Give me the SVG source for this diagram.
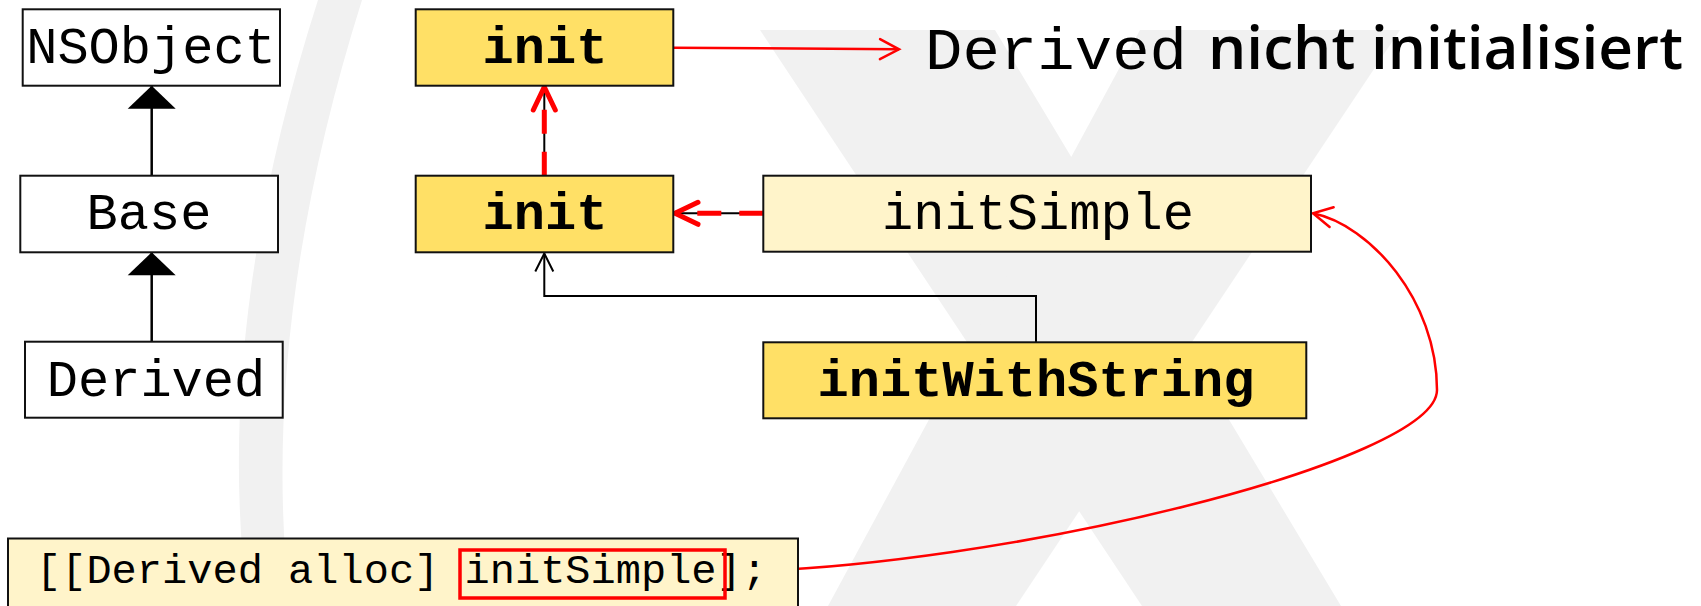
<svg xmlns="http://www.w3.org/2000/svg" width="1701" height="606" viewBox="0 0 1701 606">
<style>
.mono{font-family:"Liberation Mono","Courier New",monospace;font-size:52px;fill:#000}
.bold{font-weight:bold}
.box{stroke:#111;stroke-width:2}
.white{fill:#fff}
.yel{fill:#FFE066}
.lt{fill:#FFF4CA}
.thin{fill:none;stroke:#000;stroke-width:2}
.red{fill:none;stroke:#FF0000}
</style>
<defs>
<marker id="tri" markerUnits="userSpaceOnUse" markerWidth="1" markerHeight="1" orient="auto" overflow="visible">
<path d="M0,0 L-23,-24 L-23,24 Z" fill="#000"/>
</marker>
<marker id="redThin" markerUnits="userSpaceOnUse" markerWidth="1" markerHeight="1" orient="auto" overflow="visible">
<path d="M-19,-10 L0,0 L-19,10" fill="none" stroke="#FF0000" stroke-width="2.5" stroke-linecap="round"/>
</marker>
<marker id="redThick" markerUnits="userSpaceOnUse" markerWidth="1" markerHeight="1" orient="auto" overflow="visible">
<path d="M-23,-11 L0,0 L-23,11" fill="none" stroke="#FF0000" stroke-width="5" stroke-linecap="round" stroke-linejoin="miter"/>
</marker>
<marker id="blackOpen" markerUnits="userSpaceOnUse" markerWidth="1" markerHeight="1" orient="auto" overflow="visible">
<path d="M-18,-9 L0,0 L-18,9" fill="none" stroke="#000" stroke-width="2"/>
</marker>
</defs>
<rect width="1701" height="606" fill="#fff"/>
<g id="watermark" fill="#F1F1F1">
<path d="M318,0 Q212,330 248,606 L290,606 Q258,330 362,0 Z"/>
<path d="M760,30 L995,30 L1341,606 L1142,606 Z"/>
<path d="M1140,30 L1400,30 L1016,606 L828,606 Z"/>
</g>
<g id="connectors">
<path d="M151.7,341.7 V252.3" stroke="#000" stroke-width="2.5" marker-end="url(#tri)"/>
<path d="M151.7,175.7 V85.7" stroke="#000" stroke-width="2.5" marker-end="url(#tri)"/>
<path d="M673.3,47.7 L899,49.3" class="red" stroke-width="2.5" marker-end="url(#redThin)"/>
<path d="M544.3,175.7 V88" class="thin"/>
<path d="M544.3,175.7 V87" class="red" stroke-width="5" stroke-dasharray="24 18" marker-end="url(#redThick)"/>
<path d="M763.3,213.3 H676" class="thin"/>
<path d="M763.3,213.3 H675" class="red" stroke-width="5" stroke-dasharray="24 18" marker-end="url(#redThick)"/>
<path d="M1036,342.3 V296 H544.3 V253.5" class="thin" marker-end="url(#blackOpen)"/>
<path d="M725,572 C1000,568 1437,462 1437,390 C1437,300 1370,225 1313,213.3" class="red" stroke-width="2.5" marker-end="url(#redThin)"/>
</g>
<g id="NSObject">
<rect x="22.7" y="9.3" width="257.3" height="76.4" class="box white"/>
<text x="151" y="63" class="mono" text-anchor="middle">NSObject</text>
</g>
<g id="Base">
<rect x="20.3" y="175.7" width="257.7" height="76.6" class="box white"/>
<text x="149" y="229" class="mono" text-anchor="middle">Base</text>
</g>
<g id="Derived">
<rect x="25" y="341.7" width="257.7" height="76" class="box white"/>
<text x="156" y="396" class="mono" text-anchor="middle">Derived</text>
</g>
<g id="init-top">
<rect x="415.7" y="9.3" width="257.6" height="76.4" class="box yel"/>
<text x="545" y="63" class="mono bold" text-anchor="middle">init</text>
</g>
<g id="init-mid">
<rect x="415.7" y="175.7" width="257.6" height="76.6" class="box yel"/>
<text x="545" y="229" class="mono bold" text-anchor="middle">init</text>
</g>
<g id="initSimple">
<rect x="763.3" y="175.7" width="547.7" height="76" class="box lt"/>
<text x="1038" y="229" class="mono" text-anchor="middle">initSimple</text>
</g>
<g id="initWithString">
<rect x="763.3" y="342.3" width="543" height="76" class="box yel"/>
<text x="1036" y="396" class="mono bold" text-anchor="middle">initWithString</text>
</g>
<g id="note">
<text x="925" y="69.3" class="mono" font-size="60" textLength="262" lengthAdjust="spacingAndGlyphs" style="font-size:60px">Derived</text>
<text x="1208" y="69.3" font-family="'Open Sans','Noto Sans',sans-serif" font-weight="600" font-size="60" textLength="475" lengthAdjust="spacingAndGlyphs" fill="#000">nicht initialisiert</text>
</g>
<g id="code">
<rect x="8" y="538.5" width="790" height="80" class="box lt"/>
<text x="36" y="583" class="mono" style="font-size:40px" textLength="731" lengthAdjust="spacingAndGlyphs">[[Derived alloc] initSimple];</text>
<rect x="460" y="550" width="265" height="48" fill="none" stroke="#FF0000" stroke-width="3.5"/>
</g>
</svg>
